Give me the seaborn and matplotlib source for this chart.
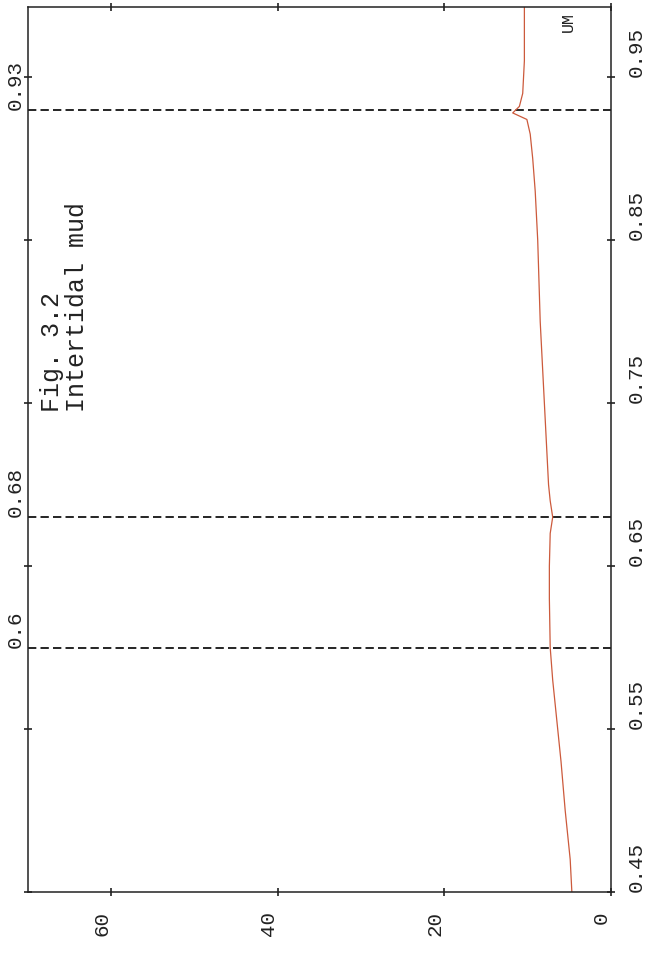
import numpy as np
import pandas as pd
import matplotlib
matplotlib.use('Agg')
import matplotlib.pyplot as plt
import seaborn as sns

# spectrum (wavelength in um, reflectance in %)
wavelength = [0.45, 0.47, 0.50, 0.53, 0.55, 0.58, 0.60, 0.63, 0.65, 0.67, 0.68, 0.69, 0.70,
              0.75, 0.80, 0.85, 0.88, 0.90, 0.915, 0.924, 0.928, 0.932, 0.94, 0.96, 0.993]
reflectance = [4.7, 4.9, 5.5, 6.0, 6.4, 7.0, 7.3, 7.4, 7.4, 7.3, 7.0, 7.3, 7.5,
               8.0, 8.5, 8.8, 9.1, 9.4, 9.7, 10.1, 11.8, 11.0, 10.6, 10.4, 10.4]
marker_wl = [0.60, 0.68, 0.93]
marker_labels = ['0.6', '0.68', '0.93']
wl_ticks = [0.45, 0.55, 0.65, 0.75, 0.85, 0.95]
refl_ticks = [0, 20, 40, 60]

df = pd.DataFrame({'wavelength': wavelength, 'reflectance': reflectance})

sns.set_style('white')
plt.rcParams['font.family'] = ['Liberation Mono', 'DejaVu Sans']

fig = plt.figure(figsize=(6.51, 9.55), dpi=100)
ax = fig.add_axes([28 / 651, 63 / 955, 583 / 651, 885 / 955])

# plot is drawn turned a quarter: wavelength runs upward, reflectance to the left
sns.lineplot(data=df, x='reflectance', y='wavelength', sort=False, estimator=None,
             color='#cc5a3c', linewidth=0.9, ax=ax)

for w in marker_wl:
    ax.axhline(w, color='black', linestyle=(0, (5, 2.5)), linewidth=1.2, zorder=1)
for w, lab in zip(marker_wl, marker_labels):
    ax.text(-0.006, w, lab, transform=ax.get_yaxis_transform(), rotation=90,
            ha='right', va='bottom', fontsize=15, color='#222222')

ax.set_xlim(70, 0)
ax.set_ylim(0.45, 0.993)
ax.set_xticks(refl_ticks)
ax.set_yticks(wl_ticks)
ax.set_xticklabels([str(t) for t in refl_ticks])
ax.set_yticklabels([f'{t:.2f}' for t in wl_ticks])
ax.set_xlabel('')
ax.set_ylabel('')

ax.tick_params(axis='both', which='both', direction='inout', length=6, width=1.2,
               colors='#222222', labelsize=15, top=True, bottom=True, left=True, right=True,
               labelleft=False, labelright=True, labelrotation=90)
ax.tick_params(axis='x', pad=11)
ax.tick_params(axis='y', pad=8)
for lab in ax.get_xticklabels():
    lab.set_ha('right')
    lab.set_va('top')
for lab in ax.get_yticklabels():
    lab.set_ha('left')
    lab.set_va('bottom')

for sp in ax.spines.values():
    sp.set_visible(True)
    sp.set_color('#222222')
    sp.set_linewidth(1.1)

ax.text(0.0206, 0.542, 'Fig. 3.2\nIntertidal mud', transform=ax.transAxes, rotation=90,
        ha='left', va='bottom', fontsize=18, linespacing=1.05, color='#222222')
ax.text(0.94, 0.972, 'UM', transform=ax.transAxes, rotation=90,
        ha='right', va='bottom', fontsize=12, color='#222222')

fig.savefig('out.png', dpi=100)
